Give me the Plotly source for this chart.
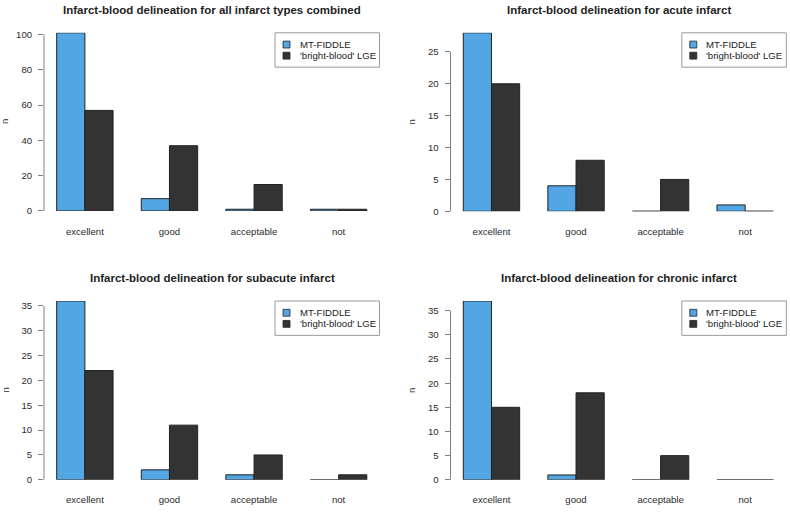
import plotly.graph_objects as go

categories = ["excellent", "good", "acceptable", "not"]
series_names = ["MT-FIDDLE", "'bright-blood' LGE"]
panel_titles = [
    "Infarct-blood delineation for all infarct types combined",
    "Infarct-blood delineation for acute infarct",
    "Infarct-blood delineation for subacute infarct",
    "Infarct-blood delineation for chronic infarct",
]
mt_fiddle = [
    [101, 7, 1, 1],
    [28, 4, 0, 1],
    [36, 2, 1, 0],
    [37, 1, 0, 0],
]
bright_blood = [
    [57, 37, 15, 1],
    [20, 8, 5, 0],
    [22, 11, 5, 1],
    [15, 18, 5, 0],
]
y_ticks = [
    [0, 20, 40, 60, 80, 100],
    [0, 5, 10, 15, 20, 25],
    [0, 5, 10, 15, 20, 25, 30, 35],
    [0, 5, 10, 15, 20, 25, 30, 35],
]

W, H = 790, 512
colors = ["#52A6E3", "#333333"]
FONT = "Liberation Sans, Arial, Helvetica, sans-serif"

# layout geometry in pixels: (x_left, x_right, y_top, y_bottom, xrange)
panels = [
    (44.0, 379.5, 29.3, 210.7, [0.55, 12.45]),
    (450.5, 786.3, 29.3, 211.0, [0.546, 12.46]),
    (44.0, 379.5, 302.3, 484.3, [0.55, 12.45]),
    (450.5, 786.3, 302.3, 484.3, [0.546, 12.46]),
]


def px(x):
    return x / W


def py(y):
    return 1 - y / H


fig = go.Figure()
shapes = []
annotations = []
layout = {}

for p in range(4):
    xl, xr, yt, yb, xrng = panels[p]
    sfx = "" if p == 0 else str(p + 1)
    xa, ya = "x" + sfx, "y" + sfx
    series = [mt_fiddle[p], bright_blood[p]]
    ymax = max(max(s) for s in series)

    zero_x, zero_y = [], []
    for s, vals in enumerate(series):
        centers = [3 * i + 1.5 + s for i in range(len(categories))]
        fig.add_trace(go.Bar(
            x=centers, y=vals, width=1.0, name=series_names[s],
            marker=dict(color=colors[s], line=dict(color="#222222", width=1)),
            xaxis=xa, yaxis=ya, showlegend=False,
        ))
        for c, v in zip(centers, vals):
            if v == 0:
                zero_x += [c - 0.5, c + 0.5, None]
                zero_y += [0, 0, None]
    if zero_x:
        fig.add_trace(go.Scatter(
            x=zero_x, y=zero_y, mode="lines",
            line=dict(color="#8a8a8a", width=1.2),
            xaxis=xa, yaxis=ya, showlegend=False, hoverinfo="skip",
        ))

    layout["xaxis" + sfx] = dict(
        domain=[px(xl), px(xr)], range=xrng, anchor=ya,
        tickmode="array", tickvals=[3 * i + 2 for i in range(len(categories))],
        ticktext=categories, ticks="outside", ticklen=11,
        tickcolor="rgba(0,0,0,0)", showline=False, showgrid=False,
        zeroline=False, tickfont=dict(size=9.6, color="#2a2a2a", family=FONT),
    )
    layout["yaxis" + sfx] = dict(
        domain=[py(yb), py(yt)], range=[0, ymax], anchor=xa,
        tickmode="array", tickvals=y_ticks[p], ticks="outside", ticklen=5,
        tickcolor="#808080", tickwidth=1, showline=False, showgrid=False,
        ticklabelstandoff=4,
        zeroline=False, tickfont=dict(size=9.6, color="#2a2a2a", family=FONT),
    )
    # R-style axis line spanning first to last tick
    shapes.append(dict(
        type="line", xref=xa + " domain", yref=ya,
        x0=0, x1=0, y0=y_ticks[p][0], y1=y_ticks[p][-1],
        line=dict(color="#808080", width=1),
    ))

    # title
    annotations.append(dict(
        text=panel_titles[p], xref="paper", yref="paper",
        x=px((xl + xr) / 2 + 0.5), y=py(yt - 23.5), xanchor="center", yanchor="middle",
        showarrow=False, font=dict(size=11.5, color="#1e1e1e", family=FONT, weight="bold"),
    ))
    # y-axis label
    annotations.append(dict(
        text="n", xref="paper", yref="paper",
        x=px(xl - 39), y=py((yt + yb) / 2), xanchor="center", yanchor="middle",
        textangle=-90, showarrow=False,
        font=dict(size=9.6, color="#2a2a2a", family=FONT),
    ))

    # legend box (top-right corner of plot region)
    bl, br, bt, bb = xr - 104.5, xr, yt, yt + 35
    shapes.append(dict(
        type="rect", xref="paper", yref="paper",
        x0=px(bl), x1=px(br), y0=py(bb), y1=py(bt),
        line=dict(color="#9a9a9a", width=1), fillcolor="rgba(0,0,0,0)",
    ))
    for s, name in enumerate(series_names):
        cy = bt + 12 + 11.3 * s
        cx = bl + 11.5
        shapes.append(dict(
            type="rect", xref="paper", yref="paper",
            x0=px(cx - 3.5), x1=px(cx + 3.5), y0=py(cy + 3.5), y1=py(cy - 3.5),
            line=dict(color="#222222", width=0.8), fillcolor=colors[s],
        ))
        annotations.append(dict(
            text=name, xref="paper", yref="paper",
            x=px(bl + 22.5), y=py(cy), xanchor="left", yanchor="middle",
            showarrow=False, font=dict(size=9.6, color="#222222", family=FONT),
        ))

fig.update_layout(
    width=W, height=H, margin=dict(l=0, r=0, t=0, b=0),
    paper_bgcolor="white", plot_bgcolor="white",
    barmode="overlay", showlegend=False,
    shapes=shapes, annotations=annotations,
    font=dict(family=FONT),
    **layout,
)

fig.write_html("out.html")
